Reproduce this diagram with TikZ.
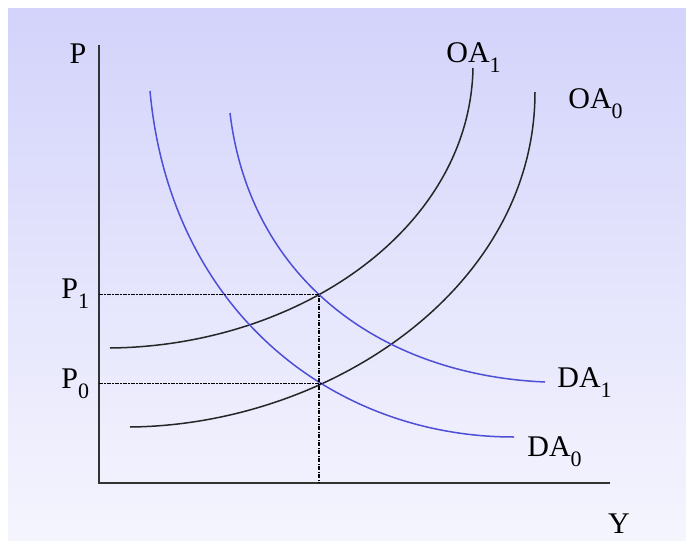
\documentclass[tikz,border=0pt]{standalone}
\usepackage{fontspec}
\setmainfont{Liberation Serif}
\usetikzlibrary{intersections}
\definecolor{bgtop}{RGB}{211,211,251}
\definecolor{bgbot}{RGB}{245,245,254}
\definecolor{dablue}{RGB}{78,78,214}
\newcommand{\idx}[1]{\raisebox{-5pt}{\fontsize{11}{11}\selectfont #1}}

\begin{document}
\begin{tikzpicture}[x=0.5pt,y=-0.5pt,
    lbl/.style={inner sep=0pt,anchor=base west,font=\fontsize{15}{18}\selectfont},
    oa/.style={line width=0.75pt,black!85},
    da/.style={line width=0.75pt,dablue},
    guide/.style={line width=0.6pt,dash pattern=on 2pt off 0.7pt on 0.6pt off 0.7pt}]
  \useasboundingbox (0,0) rectangle (686,541);
  \shade[top color=bgtop,bottom color=bgbot] (8,8) rectangle (686,541);

  % axes
  \coordinate (O) at (99,483);
  \coordinate (ytop) at (99,45);
  \coordinate (xend) at (610,483);
  \draw[line width=1pt,black!80] (ytop) -- (O) -- (xend);
  \node[lbl,anchor=base] (lblP) at (78,63) {P};
  \node[lbl,anchor=base] (lblY) at (619,533) {Y};

  % supply OA_1 and OA_0
  \draw[oa,name path=oa1] (110,348) .. controls (300,346) and (470,228) .. (473,68);
  \draw[oa,name path=oa0] (130,427) .. controls (330,425) and (535,288) .. (535,92);
  \node[lbl] (lblOA1) at (446,62) {OA\idx{1}};
  \node[lbl] (lblOA0) at (568,108) {OA\idx{0}};

  % demand DA_1 and DA_0
  \draw[da,name path=da1] (230,113) .. controls (250,280) and (382,375) .. (545,382);
  \draw[da,name path=da0] (150,91) .. controls (170,310) and (332,437) .. (514,437);
  \node[lbl] (lblDA1) at (557,387) {DA\idx{1}};
  \node[lbl] (lblDA0) at (527,456) {DA\idx{0}};

  % equilibria
  \path[name intersections={of=oa1 and da1,by=E1}];
  \path[name intersections={of=oa0 and da0,by=E0}];
  \draw[guide] (O |- E1) -- (E1) -- (O -| E1);
  \draw[guide] (O |- E0) -- (E0);
  \node[lbl] (lblP1) at (61,298) {P\idx{1}};
  \node[lbl] (lblP0) at (61,388) {P\idx{0}};
\end{tikzpicture}
\end{document}
